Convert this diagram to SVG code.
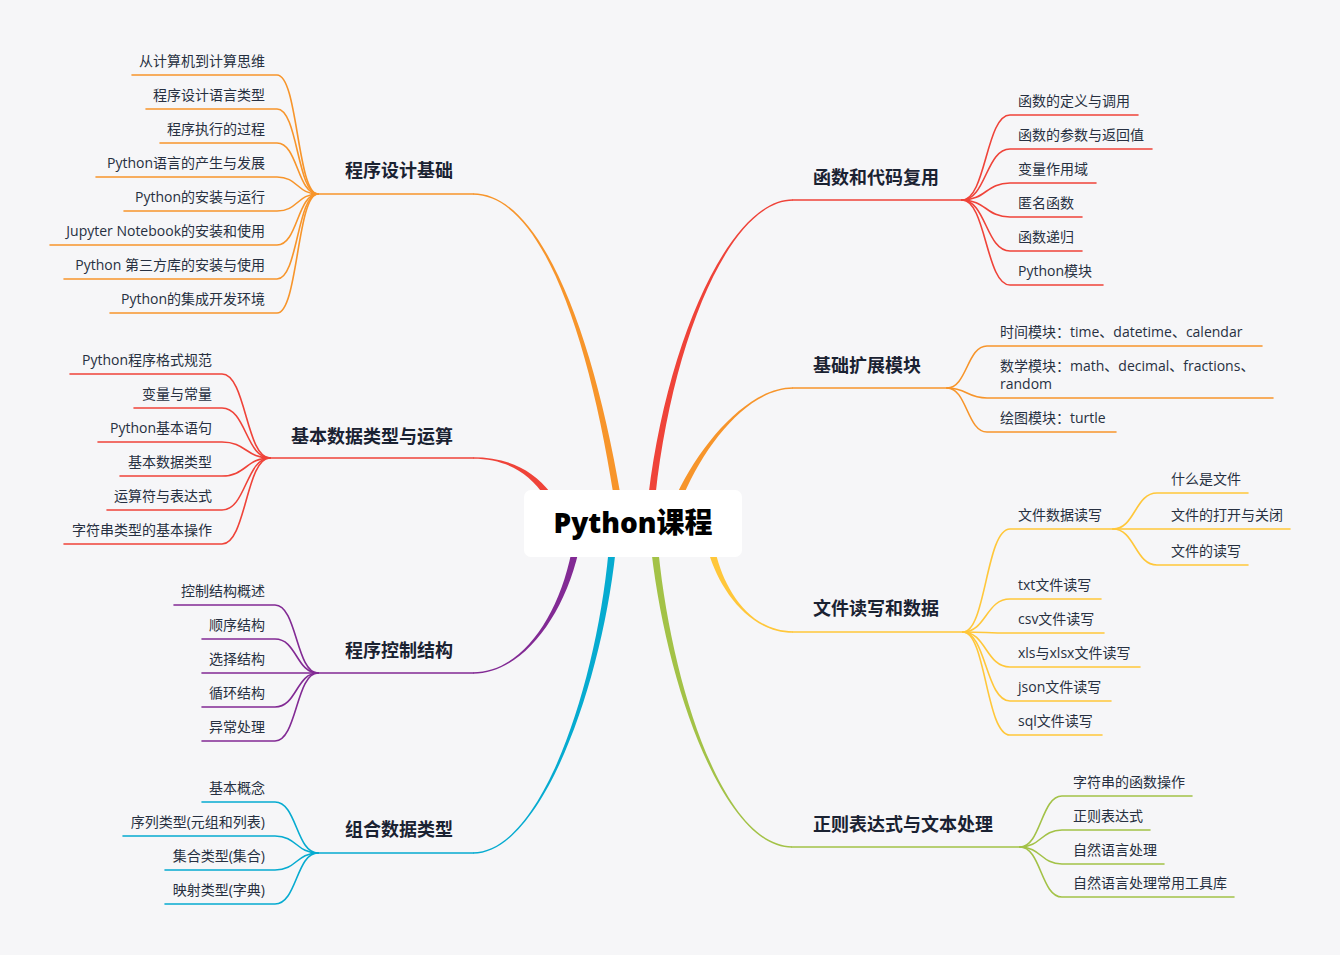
<svg xmlns="http://www.w3.org/2000/svg" width="1340" height="955" viewBox="0 0 1340 955">
<style>
.t{font-family:"Open Sans","Noto Sans CJK SC",sans-serif;font-size:14px;fill:#273041}
.h{font-family:"Open Sans","Noto Sans CJK SC",sans-serif;font-size:18px;font-weight:700;fill:#1a2232}
.e{text-anchor:end}
.l{fill:none;stroke-width:1.6;stroke-linecap:round}
.or{stroke:#F7952B}.rd{stroke:#EF4339}.pu{stroke:#822A94}.cy{stroke:#06ABD0}.gr{stroke:#A3C247}.ye{stroke:#FFC73A}
.for{fill:#F7952B}.frd{fill:#EF4339}.fpu{fill:#822A94}.fcy{fill:#06ABD0}.fgr{fill:#A3C247}.fye{fill:#FFC73A}
</style>
<rect x="0" y="0" width="1340" height="955" fill="#F6F6F8"/>
<g id="connectors">
<!-- main tapered branches -->
<path class="for" d="M 473,193.2 C 540,193.2 592.5,330 620.5,495 L 613.5,495 C 587.5,330 540,194.8 473,194.8 Z"/>
<path class="frd" d="M 793,199.2 C 730,199.2 667.5,340 648.5,495 L 655.5,495 C 672.5,340 730,200.8 793,200.8 Z"/>
<path class="for" d="M 793,387.2 C 750,387.2 702.5,440 676.5,495 L 683.5,495 C 707.5,440 750,388.8 793,388.8 Z"/>
<path class="frd" d="M 473,457.2 C 505,457.2 531.8,468.2 550.8,493 L 545.2,497 C 528.2,471.8 505,458.8 473,458.8 Z"/>
<path class="fpu" d="M 473,672.2 C 520,672.2 557.5,620 571.5,552 L 578.5,552 C 562.5,620 520,673.8 473,673.8 Z"/>
<path class="fcy" d="M 473,852.2 C 540,852.2 595.5,690 608.5,552 L 615.5,552 C 600.5,690 540,853.8 473,853.8 Z"/>
<path class="fgr" d="M 792,846.2 C 725,846.2 672.5,690 658.5,552 L 651.5,552 C 667.5,690 725,847.8 792,847.8 Z"/>
<path class="fye" d="M 793,631.2 C 750,631.2 724.5,590 715.5,552 L 708.5,552 C 719.5,590 750,632.8 793,632.8 Z"/>
<!-- main horizontal lines -->
<path class="l or" d="M 318,194 H 473"/>
<path class="l rd" d="M 270,458 H 473"/>
<path class="l pu" d="M 318,673 H 473"/>
<path class="l cy" d="M 318,853 H 473"/>
<path class="l rd" d="M 793,200 H 962"/>
<path class="l or" d="M 793,388 H 947"/>
<path class="l ye" d="M 793,632 H 963"/>
<path class="l gr" d="M 792,847 H 1020"/>
<!-- 程序设计基础 children -->
<path class="l or" d="M 132,75 H 277 C 298,75 297,194 318,194"/>
<path class="l or" d="M 146,109 H 277 C 298,109 297,194 318,194"/>
<path class="l or" d="M 160,143 H 277 C 298,143 297,194 318,194"/>
<path class="l or" d="M 96,177 H 277 C 298,177 297,194 318,194"/>
<path class="l or" d="M 124,211 H 277 C 298,211 297,194 318,194"/>
<path class="l or" d="M 50,245 H 277 C 298,245 297,194 318,194"/>
<path class="l or" d="M 64,279 H 277 C 298,279 297,194 318,194"/>
<path class="l or" d="M 110,313 H 277 C 298,313 297,194 318,194"/>
<!-- 基本数据类型与运算 children -->
<path class="l rd" d="M 70,374 H 222 C 246,374 246,458 270,458"/>
<path class="l rd" d="M 134,408 H 222 C 246,408 246,458 270,458"/>
<path class="l rd" d="M 98,442 H 222 C 246,442 246,458 270,458"/>
<path class="l rd" d="M 120,476 H 222 C 246,476 246,458 270,458"/>
<path class="l rd" d="M 107,510 H 222 C 246,510 246,458 270,458"/>
<path class="l rd" d="M 64,544 H 222 C 246,544 246,458 270,458"/>
<!-- 程序控制结构 children -->
<path class="l pu" d="M 174,605 H 275 C 297,605 296,673 318,673"/>
<path class="l pu" d="M 202,639 H 275 C 297,639 296,673 318,673"/>
<path class="l pu" d="M 202,673 H 318"/>
<path class="l pu" d="M 202,707 H 275 C 297,707 296,673 318,673"/>
<path class="l pu" d="M 202,741 H 275 C 297,741 296,673 318,673"/>
<!-- 组合数据类型 children -->
<path class="l cy" d="M 202,802 H 275 C 297,802 296,853 318,853"/>
<path class="l cy" d="M 123,836 H 275 C 297,836 296,853 318,853"/>
<path class="l cy" d="M 165,870 H 275 C 297,870 296,853 318,853"/>
<path class="l cy" d="M 165,904 H 275 C 297,904 296,853 318,853"/>
<!-- 函数和代码复用 children -->
<path class="l rd" d="M 962,200 C 986,200 986,115 1010,115 H 1138"/>
<path class="l rd" d="M 962,200 C 986,200 986,149 1010,149 H 1152"/>
<path class="l rd" d="M 962,200 C 986,200 986,183 1010,183 H 1096"/>
<path class="l rd" d="M 962,200 C 986,200 986,217 1010,217 H 1082"/>
<path class="l rd" d="M 962,200 C 986,200 986,251 1010,251 H 1082"/>
<path class="l rd" d="M 962,200 C 986,200 986,285 1010,285 H 1103"/>
<!-- 基础扩展模块 children -->
<path class="l or" d="M 947,388 C 967,388 967,346 987,346 H 1262"/>
<path class="l or" d="M 947,388 C 967,388 967,398 987,398 H 1273"/>
<path class="l or" d="M 947,388 C 967,388 967,432 987,432 H 1116"/>
<!-- 文件读写和数据 children -->
<path class="l ye" d="M 963,632 C 986,632 986,529 1010,529 H 1113"/>
<path class="l ye" d="M 963,632 C 986,632 986,599 1010,599 H 1101"/>
<path class="l ye" d="M 963,632 C 986,632 986,633 1010,633 H 1104"/>
<path class="l ye" d="M 963,632 C 986,632 986,667 1010,667 H 1140"/>
<path class="l ye" d="M 963,632 C 986,632 986,701 1010,701 H 1111"/>
<path class="l ye" d="M 963,632 C 986,632 986,735 1010,735 H 1102"/>
<path class="l ye" d="M 1113,529 C 1135,529 1135,493 1157,493 H 1248"/>
<path class="l ye" d="M 1113,529 H 1290"/>
<path class="l ye" d="M 1113,529 C 1135,529 1135,565 1157,565 H 1248"/>
<!-- 正则表达式与文本处理 children -->
<path class="l gr" d="M 1020,847 C 1041,847 1041,796 1062,796 H 1192"/>
<path class="l gr" d="M 1020,847 C 1041,847 1041,830 1062,830 H 1150"/>
<path class="l gr" d="M 1020,847 C 1041,847 1041,864 1062,864 H 1164"/>
<path class="l gr" d="M 1020,847 C 1041,847 1041,897 1062,897 H 1234"/>
</g>
<g id="root">
<rect x="524" y="490" width="218" height="67" rx="7" fill="#FFFFFF"/>
<text x="633" y="533" text-anchor="middle" style="font-family:'Open Sans','Noto Sans CJK SC',sans-serif;font-size:28px;font-weight:800;fill:#000">Python课程</text>
</g>
<g id="n-chengxusheji">
<text class="h e" x="453" y="177">程序设计基础</text>
<text class="t e" x="265" y="66">从计算机到计算思维</text>
<text class="t e" x="265" y="100">程序设计语言类型</text>
<text class="t e" x="265" y="134">程序执行的过程</text>
<text class="t e" x="265" y="168">Python语言的产生与发展</text>
<text class="t e" x="265" y="202">Python的安装与运行</text>
<text class="t e" x="265" y="236">Jupyter Notebook的安装和使用</text>
<text class="t e" x="265" y="270">Python 第三方库的安装与使用</text>
<text class="t e" x="265" y="304">Python的集成开发环境</text>
</g>
<g id="n-jibenshuju">
<text class="h e" x="453" y="443">基本数据类型与运算</text>
<text class="t e" x="212" y="365">Python程序格式规范</text>
<text class="t e" x="212" y="399">变量与常量</text>
<text class="t e" x="212" y="433">Python基本语句</text>
<text class="t e" x="212" y="467">基本数据类型</text>
<text class="t e" x="212" y="501">运算符与表达式</text>
<text class="t e" x="212" y="535">字符串类型的基本操作</text>
</g>
<g id="n-kongzhi">
<text class="h e" x="453" y="657">程序控制结构</text>
<text class="t e" x="265" y="596">控制结构概述</text>
<text class="t e" x="265" y="630">顺序结构</text>
<text class="t e" x="265" y="664">选择结构</text>
<text class="t e" x="265" y="698">循环结构</text>
<text class="t e" x="265" y="732">异常处理</text>
</g>
<g id="n-zuhe">
<text class="h e" x="453" y="836">组合数据类型</text>
<text class="t e" x="265" y="793">基本概念</text>
<text class="t e" x="265" y="827">序列类型(元组和列表)</text>
<text class="t e" x="265" y="861">集合类型(集合)</text>
<text class="t e" x="265" y="895">映射类型(字典)</text>
</g>
<g id="n-hanshu">
<text class="h" x="813" y="184">函数和代码复用</text>
<text class="t" x="1018" y="106">函数的定义与调用</text>
<text class="t" x="1018" y="140">函数的参数与返回值</text>
<text class="t" x="1018" y="174">变量作用域</text>
<text class="t" x="1018" y="208">匿名函数</text>
<text class="t" x="1018" y="242">函数递归</text>
<text class="t" x="1018" y="276">Python模块</text>
</g>
<g id="n-kuozhan">
<text class="h" x="813" y="372">基础扩展模块</text>
<text class="t" x="1000" y="337">时间模块：time、datetime、calendar</text>
<text class="t" x="1000" y="371">数学模块：math、decimal、fractions、</text>
<text class="t" x="1000" y="389">random</text>
<text class="t" x="1000" y="423">绘图模块：turtle</text>
</g>
<g id="n-wenjian">
<text class="h" x="813" y="615">文件读写和数据</text>
<text class="t" x="1018" y="520">文件数据读写</text>
<text class="t" x="1018" y="590">txt文件读写</text>
<text class="t" x="1018" y="624">csv文件读写</text>
<text class="t" x="1018" y="658">xls与xlsx文件读写</text>
<text class="t" x="1018" y="692">json文件读写</text>
<text class="t" x="1018" y="726">sql文件读写</text>
<text class="t" x="1171" y="484">什么是文件</text>
<text class="t" x="1171" y="520">文件的打开与关闭</text>
<text class="t" x="1171" y="556">文件的读写</text>
</g>
<g id="n-zhengze">
<text class="h" x="813" y="831">正则表达式与文本处理</text>
<text class="t" x="1073" y="787">字符串的函数操作</text>
<text class="t" x="1073" y="821">正则表达式</text>
<text class="t" x="1073" y="855">自然语言处理</text>
<text class="t" x="1073" y="888">自然语言处理常用工具库</text>
</g>
</svg>
